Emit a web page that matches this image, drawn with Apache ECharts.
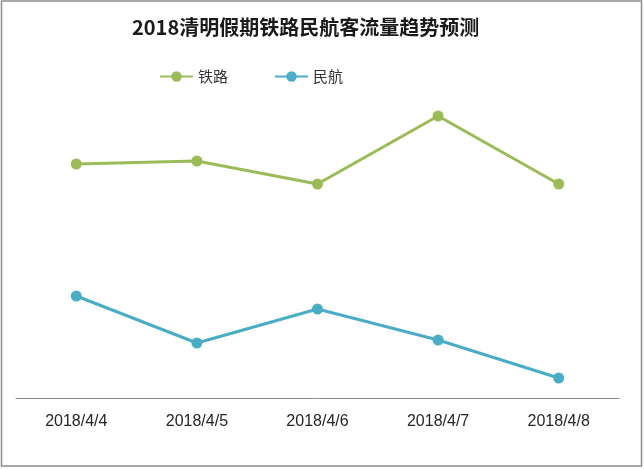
<!DOCTYPE html>
<html>
<head>
<meta charset="utf-8">
<script src="https://cdn.jsdelivr.net/npm/echarts@6/dist/echarts.min.js"></script>
<style>
html,body{margin:0;padding:0;background:#fff;}
#c{width:644px;height:469px;}
</style>
</head>
<body>
<div id="c"></div>
<script>
const categories = ['2018/4/4', '2018/4/5', '2018/4/6', '2018/4/7', '2018/4/8'];
const railway = [234, 237, 214, 282, 214];
const aviation = [102, 55, 89, 58, 20];
const seriesNames = ['铁路', '民航'];

const chart = echarts.init(document.getElementById('c'));
chart.setOption({
  backgroundColor: '#fff',
  animation: false,
  title: {
    text: '2018清明假期铁路民航客流量趋势预测',
    left: 127,
    top: 12,
    textStyle: {
      fontFamily: 'Noto Sans CJK SC',
      fontSize: 20,
      fontWeight: 'bold',
      color: '#1a1a1a'
    }
  },
  legend: {
    data: seriesNames,
    left: 154,
    top: 64,
    itemWidth: 33,
    itemHeight: 13,
    itemGap: 46,
    textStyle: {
      fontFamily: 'Noto Sans CJK SC',
      fontSize: 15,
      color: '#333'
    }
  },
  graphic: [{
    type: 'rect',
    shape: { x: 1.5, y: 1, width: 640, height: 465 },
    style: { fill: 'none', stroke: '#8c8c8c', lineWidth: 1.5 },
    silent: true
  }],
  grid: { left: 16, right: 25, top: 98, bottom: 71 },
  xAxis: {
    type: 'category',
    data: categories,
    boundaryGap: true,
    axisLine: { lineStyle: { color: '#8c8c8c', width: 1 } },
    axisTick: { show: false },
    axisLabel: {
      margin: 16,
      fontFamily: 'Liberation Sans',
      fontSize: 16,
      color: '#262626'
    }
  },
  yAxis: {
    type: 'value',
    min: 0,
    max: 300,
    show: false,
    splitLine: { show: false }
  },
  series: [
    {
      name: seriesNames[0],
      type: 'line',
      data: railway,
      symbol: 'circle',
      symbolSize: 11,
      itemStyle: { color: '#9BBB59' },
      lineStyle: { color: '#9BBB59', width: 3 }
    },
    {
      name: seriesNames[1],
      type: 'line',
      data: aviation,
      symbol: 'circle',
      symbolSize: 11,
      itemStyle: { color: '#4BACC6' },
      lineStyle: { color: '#4BACC6', width: 3 }
    }
  ]
});
</script>
</body>
</html>
